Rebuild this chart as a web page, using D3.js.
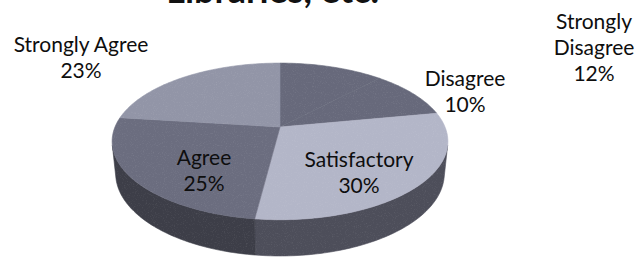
<!DOCTYPE html>
<html>
<head>
<meta charset="utf-8">
<script src="https://cdn.jsdelivr.net/npm/d3@7"></script>
<style>
    html, body { margin: 0; padding: 0; background: #fff; }
    svg { display: block; }
    text { font-family: Lato, "Open Sans", sans-serif; }
</style>
</head>
<body>
<svg id="chart" width="640" height="261"></svg>
<script>
const categories = ['Strongly Disagree', 'Disagree', 'Satisfactory', 'Agree', 'Strongly Agree'];
const values = [12, 10, 30, 25, 23];
const labelLines = [['Strongly', 'Disagree'], ['Disagree'], ['Satisfactory'], ['Agree'], ['Strongly Agree']];
const titleText = 'Libraries, etc.';

// layout, not data: label anchor (centre x, first baseline)
const labelPos = [[594, 29], [465, 86], [359, 167], [204, 165], [81, 52]];
const topColors = ['#67697b', '#67697b', '#b3b6c8', '#6b6d7f', '#9295a7'];
const sideColors = ['#464752', '#464752', '#4d4e5a', '#3d3e48', '#474853'];

const svg = d3.select('#chart');
const center = [280, 127];
const tilt = 27.3 * Math.PI / 180;
const camDist = 4.83;
const focal = 797;
const thick = 0.22;

// perspective projection of a point on the rim, a clockwise from the far side
function project(a, h, r = 1) {
    const x = r * Math.sin(a), z = r * Math.cos(a);
    const yc = z * Math.sin(tilt) + h * Math.cos(tilt);
    const d = camDist + z * Math.cos(tilt) - h * Math.sin(tilt);
    return [center[0] + focal * x / d, center[1] - focal * yc / d];
}

function arcPoints(a0, a1, h) {
    const n = Math.max(2, Math.ceil((a1 - a0) / 0.02));
    return d3.range(n + 1).map(i => project(a0 + (a1 - a0) * i / n, h));
}

const pie = d3.pie().sort(null).value(d => d);
const arcs = pie(values);
const line = d3.line();

const color = d3.scaleOrdinal().domain(categories).range(topColors);
const sideColor = d3.scaleOrdinal().domain(categories).range(sideColors);

// grain filter for the printed look
const defs = svg.append('defs');
const grain = defs.append('filter').attr('id', 'grain')
    .attr('x', 0).attr('y', 0).attr('width', 1).attr('height', 1);
grain.append('feTurbulence')
    .attr('type', 'fractalNoise')
    .attr('baseFrequency', 0.9)
    .attr('numOctaves', 2)
    .attr('seed', 3)
    .attr('result', 'noise');
grain.append('feColorMatrix')
    .attr('in', 'noise')
    .attr('type', 'matrix')
    .attr('values', '0 0 0 0 1  0 0 0 0 1  0 0 0 0 1  0 0 0 1.6 -0.85')
    .attr('result', 'speck');
grain.append('feComposite')
    .attr('in', 'speck')
    .attr('in2', 'SourceGraphic')
    .attr('operator', 'in');

// the wall is seen only where it faces the camera
const wallLimit = Math.acos(-1 / (camDist * Math.cos(tilt)));
const wallFrom = wallLimit, wallTo = 2 * Math.PI - wallLimit;

const pieG = svg.append('g');

pieG.selectAll('path.side')
    .data(arcs.filter(d => d.endAngle > wallFrom && d.startAngle < wallTo))
    .enter()
    .append('path')
    .attr('class', 'side')
    .attr('fill', d => sideColor(categories[d.index]))
    .attr('stroke', d => sideColor(categories[d.index]))
    .attr('stroke-width', 0.6)
    .attr('d', d => {
        const a0 = Math.max(d.startAngle, wallFrom);
        const a1 = Math.min(d.endAngle, wallTo);
        const pts = arcPoints(a0, a1, 0).concat(arcPoints(a0, a1, -thick).reverse());
        return line(pts) + 'Z';
    });

pieG.selectAll('path.top')
    .data(arcs)
    .enter()
    .append('path')
    .attr('class', 'top')
    .attr('fill', d => color(categories[d.index]))
    .attr('stroke', d => color(categories[d.index]))
    .attr('stroke-width', 0.6)
    .attr('d', d => line([project(0, 0, 0)].concat(arcPoints(d.startAngle, d.endAngle, 0))) + 'Z');

// grain over the whole pie, clipped to its outline
const clip = defs.append('clipPath').attr('id', 'pieClip');
clip.append('path').attr('d', line(arcPoints(0, 2 * Math.PI, 0)) + 'Z');
clip.append('path').attr('d', line(arcPoints(wallFrom, wallTo, 0).concat(arcPoints(wallFrom, wallTo, -thick).reverse())) + 'Z');
pieG.append('rect')
    .attr('x', 100).attr('y', 55).attr('width', 360).attr('height', 206)
    .attr('fill', '#fff')
    .attr('opacity', 0.16)
    .attr('filter', 'url(#grain)')
    .attr('clip-path', 'url(#pieClip)');

// labels
const labels = svg.append('g')
    .attr('font-size', 21)
    .attr('fill', '#0e0e0e')
    .attr('text-anchor', 'middle');

labels.selectAll('text')
    .data(arcs)
    .enter()
    .append('text')
    .attr('x', d => labelPos[d.index][0])
    .attr('y', d => labelPos[d.index][1])
    .each(function(d) {
        const lines = labelLines[d.index].concat([`${values[d.index]}%`]);
        const t = d3.select(this);
        lines.forEach((l, k) => {
            t.append('tspan')
                .attr('x', labelPos[d.index][0])
                .attr('dy', k === 0 ? 0 : 26)
                .text(l);
        });
    });

// title, mostly above the crop
svg.append('text')
    .attr('x', 379)
    .attr('y', 3)
    .attr('text-anchor', 'end')
    .attr('font-size', 36)
    .attr('font-weight', 'bold')
    .attr('fill', '#111')
    .text(titleText);
</script>
</body>
</html>
